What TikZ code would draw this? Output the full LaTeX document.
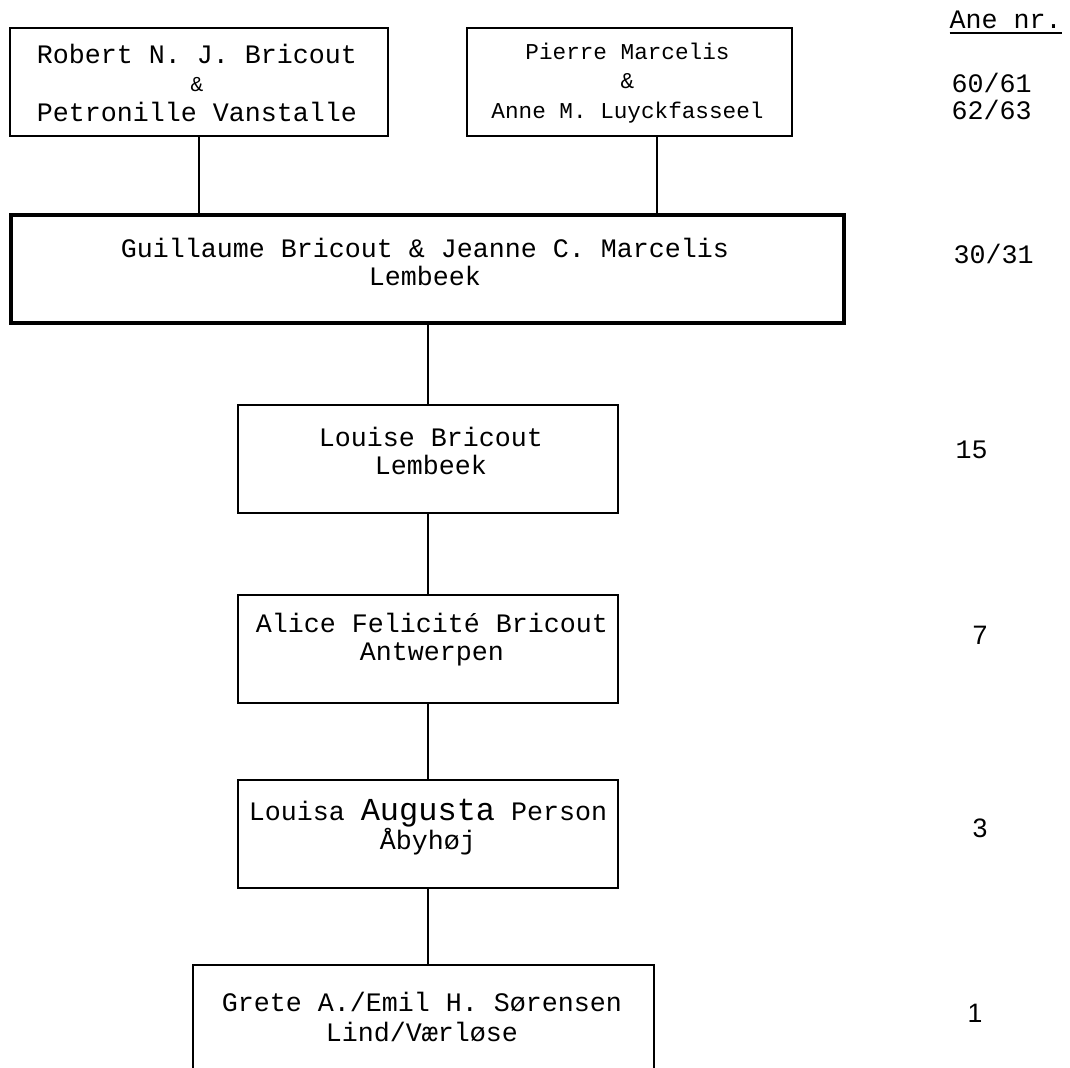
\documentclass[tikz,border=0pt]{standalone}
\usepackage{fontspec}
\setmainfont{Liberation Mono}
\newfontfamily\numfont{Liberation Sans}
\usetikzlibrary{shapes}
\tikzstyle{couple} = [draw, rectangle, line width=0.75pt, minimum height=40.5pt, inner sep=0pt]
\tikzstyle{names} = [align=center, inner sep=0pt, font=\fontsize{10}{11}\selectfont]
\tikzstyle{anenr} = [anchor=west, inner sep=0pt, font=\fontsize{10}{12}\selectfont]
\tikzstyle{descent} = [line width=0.75pt]

\begin{document}
\begin{tikzpicture}[x=0.375pt, y=-0.375pt]
		\clip (0,0) rectangle (1070,1068);
		%blocks
		\node[couple, minimum width=141.75pt](robert) at (199,82){};
		\node[couple, minimum width=121.9pt](pierre) at (629.5,82){};
		\node[couple, minimum width=312.4pt, line width=1.5pt](guillaume) at (427.5,269){};
		\node[couple, minimum width=142.5pt](louise) at (428,459){};
		\node[couple, minimum width=142.5pt](alice) at (428,649){};
		\node[couple, minimum width=142.5pt](louisa) at (428,833.5){};
		\node[couple, minimum width=172.9pt](grete) at (423.5,1019){};

		%names
		\node[names](robert-txt) at (197,83){Robert N. J. Bricout\\[-0.5pt]{\fontsize{8}{9}\selectfont\&}\\[0.5pt]Petronille Vanstalle};
		\node[names, font=\fontsize{8.5}{10.5}\selectfont](pierre-txt) at (627.5,83){Pierre Marcelis\\[0.5pt]\&\\[0.5pt]Anne M. Luyckfasseel};
		\node[names](guillaume-txt) at (425,262){Guillaume Bricout \& Jeanne C. Marcelis\\[-0.5pt]Lembeek};
		\node[names](louise-txt) at (431,451){Louise Bricout\\[-0.5pt]Lembeek};
		\node[names](alice-txt) at (432,640){Alice Felicité Bricout\\[-0.5pt]Antwerpen};
		\node[names](louisa-txt) at (428,827){Louisa {\fontsize{12}{12}\selectfont Augusta} Person\\Åbyhøj};
		\node[names](grete-txt) at (422,1017){Grete A./Emil H. Sørensen\\Lind/Værløse};

		%ane numbers
		\node[anenr](ane) at (949,23){\underline{Ane nr.}};
		\node[anenr](a60) at (951,83){60/61};
		\node[anenr](a62) at (951,110){62/63};
		\node[anenr](a30) at (953,254){30/31};
		\node[anenr](a15) at (955,450){15};
		\node[anenr, font=\numfont\fontsize{10}{12}\selectfont](a7) at (972,635){7};
		\node[anenr, font=\numfont\fontsize{10}{12}\selectfont](a3) at (972,828){3};
		\node[anenr, font=\numfont\fontsize{10}{12}\selectfont](a1) at (967,1013){1};

		%lines
		\coordinate (pjoin) at ([xshift=10.3pt]pierre.south);
		\draw[descent](robert.south) -- (robert.south |- guillaume.north);
		\draw[descent](pjoin) -- (pjoin |- guillaume.north);
		\draw[descent](guillaume.south -| louise.north) -- (louise.north);
		\draw[descent](louise) -- (alice);
		\draw[descent](alice) -- (louisa);
		\draw[descent](louisa.south) -- (louisa.south |- grete.north);
	\end{tikzpicture}
\end{document}
